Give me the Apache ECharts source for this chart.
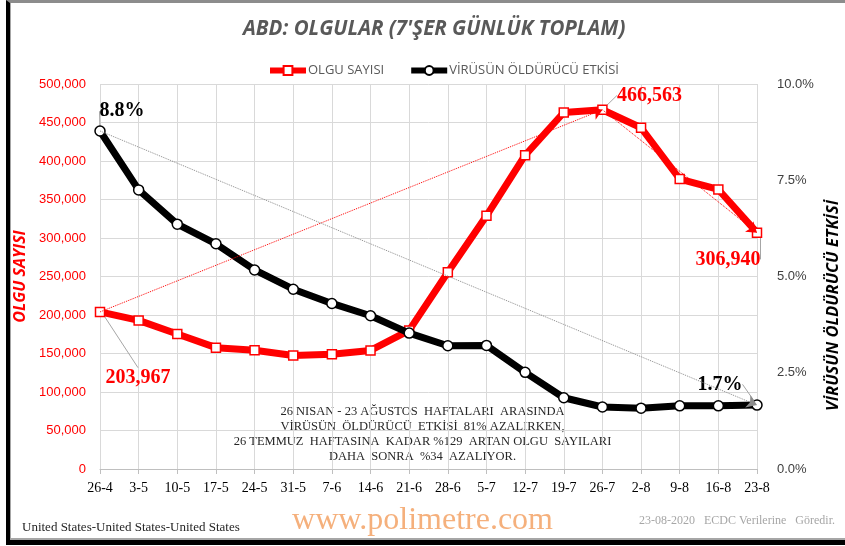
<!DOCTYPE html>
<html lang="tr">
<head>
    <meta charset="UTF-8">
    <title>ABD: OLGULAR</title>
    <style>
        html, body { margin: 0; padding: 0; background: #fff; overflow: hidden; width: 845px; height: 546px; }
        #main { position: absolute; left: 0; top: 0; width: 845px; height: 546px; }
        .frame {
            position: absolute; left: 6px; top: 0; width: 839px; height: 545px;
            border-left: 4px solid #000; border-bottom: 5px solid #000; border-top: 3px solid #8c8c8c;
            pointer-events: none; box-sizing: border-box;
        }
        .frame-in {
            position: absolute; left: 10px; top: 3px; width: 835px; height: 537px;
            border-left: 1px solid #a6a6a6; border-bottom: 2px solid #a6a6a6;
            pointer-events: none; box-sizing: border-box;
        }
    </style>
</head>
<body>
<script src="https://cdn.jsdelivr.net/npm/echarts@6/dist/echarts.min.js"></script>
<div id="main"></div>
<div class="frame"></div>
<div class="frame-in"></div>
<script>
    // haftalar (hafta başı tarihleri)
    var weeks = ['26-4', '3-5', '10-5', '17-5', '24-5', '31-5', '7-6', '14-6', '21-6',
        '28-6', '5-7', '12-7', '19-7', '26-7', '2-8', '9-8', '16-8', '23-8'];
    // 7 günlük toplam olgu
    var cases = [203967, 193000, 175300, 157600, 154100, 147500, 149000, 154000, 180000,
        255500, 328800, 407500, 463000, 466563, 443200, 376600, 363000, 306940];
    // öldürücü etki (%)
    var lethality = [8.78, 7.25, 6.36, 5.85, 5.17, 4.67, 4.30, 3.98, 3.53,
        3.20, 3.21, 2.51, 1.85, 1.61, 1.58, 1.64, 1.64, 1.66];
    var leftTicks = [0, 500000, 50000];
    var rightTicks = [0, 10, 2.5];

    var noteLines = [
        '26 NISAN - 23 AĞUSTOS  HAFTALARI  ARASINDA',
        'VİRÜSÜN  ÖLDÜRÜCÜ  ETKİSİ  81% AZALIRKEN,',
        '26 TEMMUZ  HAFTASINA  KADAR %129  ARTAN OLGU  SAYILARI',
        'DAHA  SONRA  %34  AZALIYOR.'
    ];

    var serif = '"Liberation Serif", "Times New Roman", serif';
    var sans = '"Liberation Sans", Arial, sans-serif';
    var last = weeks.length - 1;
    var peak = 13;

    // etiket kaydırmaları [seri][nokta] = [dx, dy]
    var labelShift = [{ 0: [38, 86], 13: [47, 6], 17: [-29, 47] }, { 0: [22, 1], 17: [-37, 0] }];

    var bigLabel = function (color, fmt) {
        return {
            show: true, position: 'top', color: color, fontFamily: serif,
            fontWeight: 'bold', fontSize: 20, formatter: fmt
        };
    };

    var casesData = cases.map(function (v, i) {
        var item = { value: v };
        var fmt = function (p) { return p.value.toLocaleString('en-US'); };
        if (i === 0 || i === peak || i === last) item.label = bigLabel('#ff0000', fmt);
        return item;
    });
    var lethData = lethality.map(function (v, i) {
        var item = { value: v };
        var fmt = function (p) { return p.value.toFixed(1) + '%'; };
        if (i === 0 || i === last) item.label = bigLabel('#000', fmt);
        return item;
    });

    var layoutFn = function (params) {
        var s = labelShift[params.seriesIndex][params.dataIndex];
        if (!s) return {};
        return { dx: s[0], dy: s[1] };
    };

    var chart = echarts.init(document.getElementById('main'));
    var option = {
        animation: false,
        backgroundColor: '#fff',
        title: {
            text: "ABD: OLGULAR (7'ŞER GÜNLÜK TOPLAM)",
            left: 238, top: 14,
            textStyle: {
                fontFamily: '"Open Sans", sans-serif', fontSize: 20.5, fontStyle: 'italic',
                fontWeight: 'bold', color: '#595959', textDecoration: 'underline'
            }
        },
        legend: {
            top: 59, left: 262, itemWidth: 36, itemHeight: 11, itemGap: 24,
            lineStyle: { width: 6 },
            textStyle: { fontFamily: '"Open Sans", sans-serif', fontSize: 13, color: '#595959', padding: [0, 0, 0, -3] },
            data: ['OLGU SAYISI', 'VİRÜSÜN ÖLDÜRÜCÜ ETKİSİ']
        },
        grid: { left: 100, right: 88, top: 84, bottom: 77, outerBoundsMode: 'none', containLabel: false },
        xAxis: {
            type: 'category', data: weeks, boundaryGap: false,
            axisLine: { lineStyle: { color: '#bfbfbf' } },
            axisTick: { show: true, alignWithLabel: true, length: 5, lineStyle: { color: '#bfbfbf' } },
            axisLabel: { interval: 0, fontFamily: serif, fontSize: 14, color: '#000', margin: 12 },
            splitLine: { show: true, interval: 0, lineStyle: { color: '#d9d9d9' } }
        },
        yAxis: [{
            type: 'value', min: leftTicks[0], max: leftTicks[1], interval: leftTicks[2],
            name: 'OLGU SAYISI', nameLocation: 'middle', nameGap: 72, nameRotate: 90,
            nameTextStyle: {
                fontFamily: '"Open Sans", sans-serif', fontSize: 16, fontStyle: 'italic',
                fontWeight: 'bold', color: '#ff0000', textDecoration: 'underline'
            },
            axisLine: { show: false }, axisTick: { show: false },
            axisLabel: {
                fontFamily: sans, fontSize: 13, color: '#ff0000', margin: 14,
                formatter: function (v) { return v.toLocaleString('en-US'); }
            },
            splitLine: { lineStyle: { color: '#d9d9d9' } }
        }, {
            type: 'value', min: rightTicks[0], max: rightTicks[1], interval: rightTicks[2],
            name: 'VİRÜSÜN ÖLDÜRÜCÜ ETKİSİ', nameLocation: 'middle', nameGap: 64, nameRotate: 90,
            nameTextStyle: {
                fontFamily: '"Open Sans", sans-serif', fontSize: 16.5, fontStyle: 'italic',
                fontWeight: 'bold', color: '#000', textDecoration: 'underline',
                padding: [0, 58, 0, 0]
            },
            axisLine: { show: false }, axisTick: { show: false },
            axisLabel: {
                fontFamily: sans, fontSize: 13, color: '#404040', margin: 20,
                formatter: function (v) { return v.toFixed(1) + '%'; }
            },
            splitLine: { show: false }
        }],
        series: [{
            name: 'OLGU SAYISI', type: 'line', yAxisIndex: 0, data: casesData,
            color: '#ff0000', z: 3,
            lineStyle: { width: 7, color: '#ff0000' },
            symbol: 'rect', symbolSize: 9,
            itemStyle: { color: '#fff', borderColor: '#ff0000', borderWidth: 1.5 },
            labelLayout: layoutFn,
            labelLine: { show: true, lineStyle: { color: '#a6a6a6', width: 1 } },
            markLine: {
                silent: true, symbol: ['none', 'arrow'], symbolSize: 10,
                label: { show: false },
                lineStyle: { color: '#ff0000', type: 'dotted', width: 1 },
                data: [
                    [{ coord: [weeks[0], cases[0]] }, { coord: [weeks[peak], cases[peak]] }],
                    [{ coord: [weeks[peak], cases[peak]] }, { coord: [weeks[last], cases[last]] }]
                ]
            }
        }, {
            name: 'VİRÜSÜN ÖLDÜRÜCÜ ETKİSİ', type: 'line', yAxisIndex: 1, data: lethData,
            color: '#000', z: 4,
            lineStyle: { width: 7, color: '#000' },
            symbol: 'circle', symbolSize: 10,
            itemStyle: { color: '#fff', borderColor: '#000', borderWidth: 1.5 },
            labelLayout: layoutFn,
            labelLine: { show: true, lineStyle: { color: '#a6a6a6', width: 1 } },
            markLine: {
                silent: true, symbol: ['none', 'arrow'], symbolSize: 10,
                label: { show: false },
                lineStyle: { color: '#8c8c8c', type: 'dotted', width: 1 },
                data: [
                    [{ coord: [weeks[0], lethality[0]] }, { coord: [weeks[last], lethality[last]] }]
                ]
            }
        }],
        graphic: [{
            type: 'text', left: 'center', top: 404,
            style: {
                text: noteLines.join('\n'), textAlign: 'center', lineHeight: 15,
                font: '12.5px ' + serif, fill: '#262626'
            }
        }, {
            type: 'text', left: 22, top: 521,
            style: { text: 'United States-United States-United States', font: '13px ' + serif, fill: '#262626' }
        }, {
            type: 'text', left: 'center', top: 505,
            style: { text: 'www.polimetre.com', font: '32px ' + serif, fill: '#f5b07c' }
        }, {
            type: 'text', right: 10, top: 515,
            style: { text: '23-08-2020   ECDC Verilerine   Göredir.', font: '12px ' + serif, fill: '#a6a6a6' }
        }]
    };
    chart.setOption(option);
</script>
</body>
</html>
